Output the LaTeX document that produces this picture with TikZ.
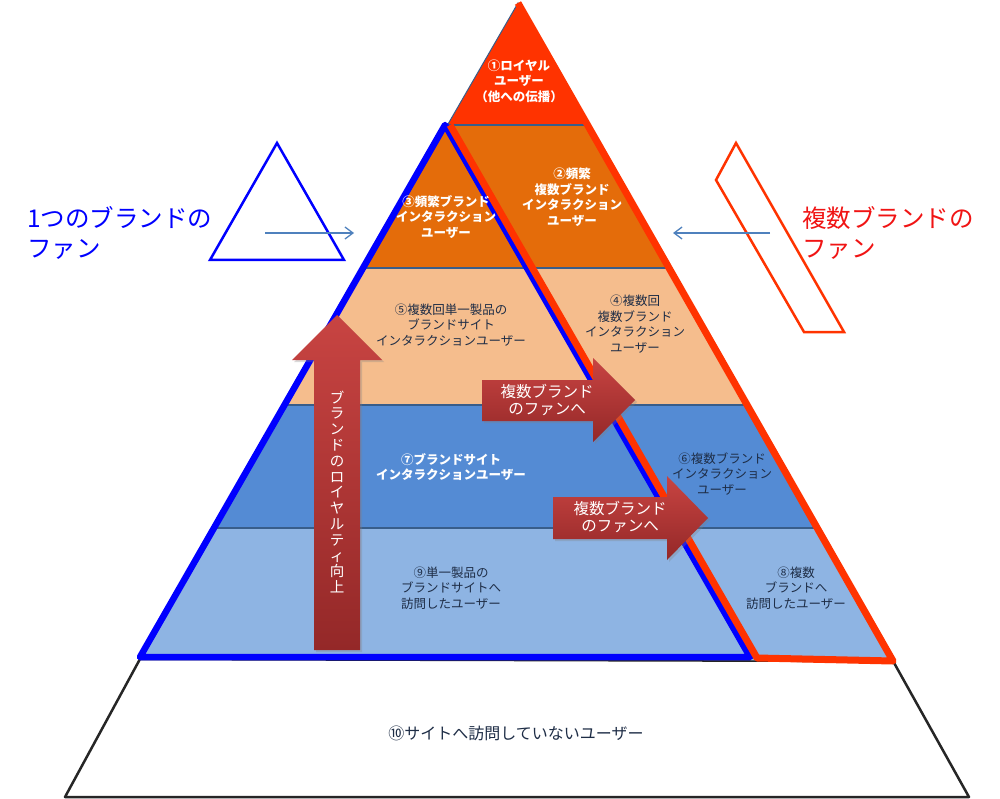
\documentclass[tikz,border=0pt]{standalone}
\usepackage{fontspec}
\setmainfont{Noto Sans CJK JP}
\usetikzlibrary{arrows.meta, shadows}

\definecolor{loyalRed}{RGB}{255,51,0}
\definecolor{bandOrange}{RGB}{228,108,10}
\definecolor{bandPeach}{RGB}{245,189,141}
\definecolor{bandBlue}{RGB}{84,139,212}
\definecolor{bandSky}{RGB}{142,180,227}
\definecolor{sepLine}{RGB}{56,93,138}
\definecolor{labelDark}{RGB}{30,45,70}
\definecolor{fanBlue}{RGB}{0,0,255}
\definecolor{fanRed}{RGB}{255,51,0}
\definecolor{fanText}{RGB}{240,20,20}
\definecolor{arrowLight}{RGB}{200,68,66}
\definecolor{arrowDark}{RGB}{148,40,40}
\definecolor{pointerBlue}{RGB}{79,129,189}

\begin{document}
\begin{tikzpicture}[x=1pt, y=-1pt,
  lab/.style={align=center, inner sep=0pt, text=labelDark,
    font=\fontsize{12.5}{15.5}\selectfont},
  labw/.style={lab, text=white, font=\fontsize{12.5}{15.5}\selectfont\bfseries},
  arrowText/.style={align=center, inner sep=0pt, text=white,
    font=\fontsize{15.5}{16.5}\selectfont},
  fan/.style={align=left, inner sep=0pt, anchor=west,
    font=\fontsize{24.5}{30}\selectfont},
  bigarrow/.style={top color=arrowLight, bottom color=arrowDark,
    drop shadow={opacity=0.3, shadow xshift=2pt, shadow yshift=-2pt}},
  pointer/.style={pointerBlue, line width=1.3pt,
    -{Straight Barb[length=8pt, width=12pt]}}]

  \useasboundingbox (0,0) rectangle (1000,799);

  % Bottom level: users who never visit
  \draw[draw=black!85, fill=white, line width=2.5pt, line join=round]
    (140,659) -- (893,661) -- (969,797) -- (65,797) -- cycle;

  % Coloured bands of the pyramid
  \begin{scope}
    \clip (518,3) -- (893,661) -- (140,657) -- cycle;
    \fill[loyalRed]   (0,0)   rectangle (1000,125);
    \fill[bandOrange] (0,125) rectangle (1000,268);
    \fill[bandPeach]  (0,268) rectangle (1000,405);
    \fill[bandBlue]   (0,405) rectangle (1000,528);
    \fill[bandSky]    (0,528) rectangle (1000,670);
    \draw[sepLine, line width=2pt] (0,125) -- (1000,125);
    \draw[sepLine, line width=2pt] (0,268) -- (1000,268);
    \draw[sepLine, line width=2pt] (0,405) -- (1000,405);
    \draw[sepLine, line width=2pt] (0,528) -- (1000,528);
  \end{scope}
  \draw[sepLine, line width=1pt] (140,657) -- (518,3) -- (893,661);

  % Fans of one brand (blue) and of several brands (red)
  \draw[fanBlue, line width=6.5pt, line join=round]
    (445,125) -- (750,657) -- (140,657) -- cycle;
  \draw[fanRed, line width=7pt, line join=round]
    (450,125) -- (757,658) -- (893,661) -- (518,3);

  % Level labels
  \node[labw] (lvOne)   at (519,81)  {①ロイヤル\\ユーザー\\（他への伝播）};
  \node[labw] (lvTwo)   at (572,197) {②頻繁\\複数ブランド\\インタラクション\\ユーザー};
  \node[labw] (lvThree) at (446,217) {③頻繁ブランド\\インタラクション\\ユーザー};
  \node[lab]  (lvFour)  at (635,324) {④複数回\\複数ブランド\\インタラクション\\ユーザー};
  \node[lab]  (lvFive)  at (451,325) {⑤複数回単一製品の\\ブランドサイト\\インタラクションユーザー};
  \node[lab]  (lvSix)   at (722,474) {⑥複数ブランド\\インタラクション\\ユーザー};
  \node[labw] (lvSeven) at (451,467) {⑦ブランドサイト\\インタラクションユーザー};
  \node[lab]  (lvEight) at (796,588) {⑧複数\\ブランドへ\\訪問したユーザー};
  \node[lab]  (lvNine)  at (451,588) {⑨単一製品の\\ブランドサイトへ\\訪問したユーザー};
  \node[lab, font=\fontsize{16}{18}\selectfont] (lvTen) at (516,733)
    {⑩サイトへ訪問していないユーザー};

  % Block arrows
  \path[bigarrow] (314,650) -- (314,360) -- (292,360) -- (337,315)
    -- (382,360) -- (360,360) -- (360,650) -- cycle;
  \path[bigarrow] (482,380) -- (593,380) -- (593,358) -- (635,400)
    -- (593,442) -- (593,421) -- (482,421) -- cycle;
  \path[bigarrow] (553,497) -- (667,497) -- (667,476) -- (708,518)
    -- (667,560) -- (667,539) -- (553,539) -- cycle;

  \node[arrowText, font=\fontsize{14.5}{15.8}\selectfont] (loyaltyUp) at (337,492)
    {ブ\\ラ\\ン\\ド\\の\\ロ\\イ\\ヤ\\ル\\テ\\ィ\\向\\上};
  \node[arrowText] (toMultiA) at (547,400) {複数ブランド\\のファンへ};
  \node[arrowText] (toMultiB) at (620,517) {複数ブランド\\のファンへ};

  % Side legends
  \draw[fanBlue, line width=2.5pt] (277,143) -- (344,260) -- (210,260) -- cycle;
  \draw[fanRed, line width=2.5pt] (736,143) -- (844,332) -- (804,332) -- (716,180) -- cycle;

  \coordinate (oneTail) at (265,233);
  \coordinate (oneHead) at (354,233);
  \draw[pointer] (oneTail) -- (oneHead);
  \coordinate (multiTail) at (770,233);
  \coordinate (multiHead) at (673,233);
  \draw[pointer] (multiTail) -- (multiHead);

  \node[fan, text=fanBlue] (oneBrandFan) at (27,233) {1つのブランドの\\ファン};
  \node[fan, text=fanText] (multiBrandFan) at (802,233) {複数ブランドの\\ファン};

\end{tikzpicture}
\end{document}
